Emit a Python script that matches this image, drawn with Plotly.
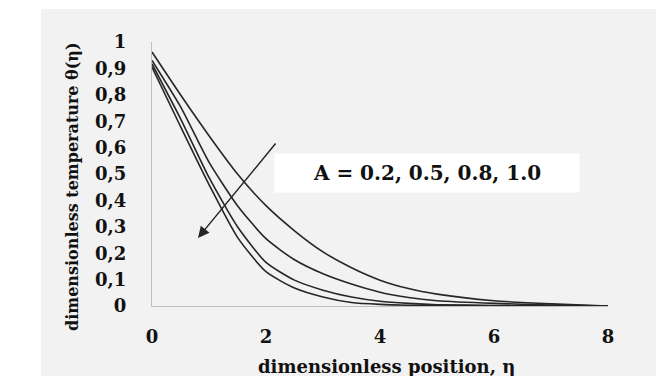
import plotly.graph_objects as go

eta = [0, 0.5, 1, 1.5, 2, 2.5, 3, 3.5, 4, 4.5, 5, 6, 7, 8]
theta_A02 = [0.962, 0.80, 0.645, 0.50, 0.38, 0.285, 0.205, 0.145, 0.098, 0.066, 0.045, 0.02, 0.008, 0.0]
theta_A05 = [0.93, 0.755, 0.545, 0.38, 0.255, 0.175, 0.122, 0.083, 0.052, 0.032, 0.02, 0.01, 0.004, 0.0]
theta_A08 = [0.917, 0.71, 0.487, 0.30, 0.165, 0.098, 0.06, 0.034, 0.018, 0.01, 0.005, 0.002, 0.001, 0.0]
theta_A10 = [0.905, 0.68, 0.46, 0.26, 0.13, 0.068, 0.034, 0.013, 0.006, 0.003, 0.002, 0.001, 0.0, 0.0]
series = [theta_A02, theta_A05, theta_A08, theta_A10]

y_ticks = [0, 0.1, 0.2, 0.3, 0.4, 0.5, 0.6, 0.7, 0.8, 0.9, 1]
y_tick_labels = ["0", "0,1", "0,2", "0,3", "0,4", "0,5", "0,6", "0,7", "0,8", "0,9", "1"]
x_ticks = [0, 2, 4, 6, 8]
x_tick_labels = ["0", "2", "4", "6", "8"]

SERIF = "DejaVu Serif, serif"
TXT = "#111111"

fig = go.Figure()
for s in series:
    fig.add_trace(go.Scatter(x=eta, y=s, mode="lines",
                             line=dict(color="#262626", width=1.6, shape="spline", smoothing=0.6),
                             showlegend=False, hoverinfo="skip"))

OFF = 8  # page body margin
W, H = 664 - OFF, 376 - OFF
L, T = 152 - OFF, 42 - OFF
R = W - (608 - OFF)
B = H - (306 - OFF)
pw, ph = W - L - R, H - T - B

def px_to_paper(px, py):
    fx, fy = px - OFF, py - OFF
    return (fx - L) / pw, (H - B - fy) / ph

gx0, gy0 = px_to_paper(41, 380)
gx1, gy1 = px_to_paper(670, 9)
fig.add_shape(type="rect", xref="paper", yref="paper", x0=gx0, y0=gy0, x1=gx1, y1=gy1,
              fillcolor="#f2f2f2", line=dict(width=0), layer="below")

bx, by = px_to_paper(427, 172.5)
fig.add_annotation(xref="paper", yref="paper", x=bx, y=by, xanchor="center", yanchor="middle",
                   text="<b>A = 0.2, 0.5, 0.8, 1.0</b>",
                   showarrow=False, bgcolor="white", width=302, height=36,
                   font=dict(family=SERIF, size=20, color=TXT))

fig.add_annotation(x=0.807, y=0.258, ax=2.19, ay=0.621, xref="x", yref="y", axref="x", ayref="y",
                   text="", showarrow=True, arrowhead=2, arrowsize=1.5, arrowwidth=1.5, arrowcolor="#262626")

tx, ty = px_to_paper(386, 366)
fig.add_annotation(xref="paper", yref="paper", x=tx, y=ty, xanchor="center", yanchor="middle",
                   text="<b>dimensionless position, η</b>",
                   showarrow=False, font=dict(family=SERIF, size=18, color=TXT))
yx, yy = px_to_paper(72, 187)
fig.add_annotation(xref="paper", yref="paper", x=yx, y=yy, xanchor="center", yanchor="middle",
                   text="<b>dimensionless temperature θ(η)</b>",
                   showarrow=False, textangle=-90, font=dict(family=SERIF, size=16, color=TXT))

fig.update_xaxes(range=[0, 8], tickvals=x_ticks, ticktext=["<b>%s</b>" % t for t in x_tick_labels],
                 showgrid=False, zeroline=False,
                 showline=True, linecolor="#bfbfbf", linewidth=1, ticks="", ticklabelstandoff=14,
                 tickfont=dict(family=SERIF, size=18, color=TXT))
fig.update_yaxes(range=[0, 1], tickvals=y_ticks, ticktext=["<b>%s</b>" % t for t in y_tick_labels],
                 showgrid=False, zeroline=False,
                 showline=True, linecolor="#bfbfbf", linewidth=1, ticks="", ticklabelstandoff=21,
                 tickfont=dict(family=SERIF, size=18, color=TXT))

fig.update_layout(width=W, height=H, margin=dict(l=L, r=R, t=T, b=B, pad=0),
                  paper_bgcolor="white", plot_bgcolor="rgba(0,0,0,0)")

fig.write_html("out.html")
